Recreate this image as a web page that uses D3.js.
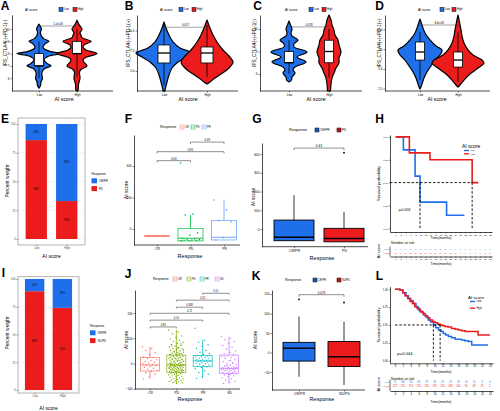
<!DOCTYPE html>
<html><head><meta charset="utf-8">
<script src="https://cdn.jsdelivr.net/npm/d3@7"></script>
<style>body{margin:0;background:#fff}svg{display:block}</style>
</head><body><svg id="c" width="500" height="411"></svg>
<script>
// ---------------- DATA ----------------
const scoreGroups = ["Low", "High"];
// violin densities [value, relative half-width]
const aTicks = [6, 7, 8, 9, 10];
const aLowDens = [[5.18,0],[5.4,1.5],[5.7,2],[6.0,3.5],[6.2,3],[6.5,3],[6.8,6],[7.0,12],[7.2,8],[7.5,5],[7.8,10],[8.0,22],[8.2,10],[8.5,4],[8.8,6],[9.0,10],[9.2,5],[9.5,2],[9.8,1.5],[10.0,2.5],[10.2,1.5],[10.4,0]];
const aHighDens = [[4.95,0],[5.0,1],[5.5,1.5],[6.0,3],[6.5,2.5],[6.7,4],[7.0,10],[7.3,7],[7.5,6],[7.7,9],[8.0,20],[8.3,9],[8.5,6],[8.7,7],[9.0,14],[9.3,5],[9.5,4],[9.7,3],[10.0,5],[10.3,2.5],[10.73,0]];
const aBoxes = [[7, 7, 8, 6, 9], [8, 8, 9, 6.1, 10]];
const bTicks = [5, 7.5, 10];
const bLowDens = [[2.53,1],[2.9,1.5],[3.64,3],[4.51,5],[5.37,8],[6.11,14],[6.73,22],[7.22,28],[7.84,16],[8.58,9],[9.44,5],[10.3,2],[11.05,0]];
const bHighDens = [[3.4,0],[3.64,3],[4.14,8],[4.63,14],[5.37,22],[6.11,26],[6.85,22],[7.59,16],[8.58,10],[9.44,6],[10.3,3],[11.3,0]];
const bBoxes = [[5.99, 7.22, 8.21, 3.27, 10.68], [5.99, 7.22, 7.96, 4.26, 10.68]];
const cTicks = [6, 8, 10];
const cLowDens = [[5.29,0],[5.47,2.5],[5.73,3],[6.09,6],[6.36,4],[6.62,6],[7.07,17],[7.5,8],[7.96,18],[8.4,5],[8.67,5],[9.02,9],[9.38,3],[9.64,2],[10.0,3],[10.36,1.5],[10.71,0]];
const cHighDens = [[4.49,1.5],[5.11,2],[5.64,3],[6.09,5],[6.53,7],[6.98,10],[7.42,10],[7.96,12],[8.58,10],[9.02,9],[9.47,6],[9.9,5],[10.36,3],[10.8,2],[11.24,0]];
const cBoxes = [[7, 7, 8, 6, 9], [7, 8, 9, 5.7, 10]];
const dTicks = [2.5, 5, 7.5, 10];
const dLowDens = [[2.44,0],[2.57,0.5],[3.08,2],[3.84,4],[4.6,7],[5.36,11],[6.12,15],[6.76,20],[7.4,22],[7.9,16],[8.67,10],[9.56,5],[10.57,2],[11.33,0]];
const dHighDens = [[2.69,0],[2.95,2],[3.58,6],[4.35,12],[5.11,20],[5.74,26],[6.12,24],[6.76,15],[7.4,10],[8.28,6],[9.17,4],[9.94,3],[10.95,1.5],[11.84,0]];
const dBoxes = [[6.12, 7.14, 8.41, 3.6, 9.7], [5.23, 6.12, 7.14, 3.33, 9.7]];
const pValsTop = ["1.1e-08", "0.017", "0.028", "3.4e-08"];

// stacked bars (percent)
const pctTicks = [0, 25, 50, 75, 100];
const eCRPR = [14, 67];
const ePD = [86, 33];
const iCRPR = [11, 26];
const iSDPD = [89, 74];

// F
const fResp = ["CR", "PD", "PR"];
const fStats = [[-47, -45, -43, -48, -43], [-76, -59, 4, -78, 89], [-70, -53, 53, -72, 184]];
const fCRpts = [-48, -46, -45, -44, -44, -43];
const fPDpts = [419, 95, 89, -25, -38, -60, -63, -66, -68, -70, -72, -74, -75, -76];
const fPRpts = [184, 121, 53, 46, -55, -70];
const fBrackets = [["CR", "PD", 434, "0.94"], ["CR", "PR", 491, "0.81"], ["PD", "PR", 552, "0.39"]];
// G
const gResp = ["CR/PR", "PD"];
const gStats = [[-62, -44, 48, -62, 181], [-68, -50, 4, -68, 92]];
const gOut = [[], [407]];
const gBrackets = [["CR/PR", "PD", 432, "0.41"]];
// J
const jResp = ["CR", "PD", "PR", "SD"];
const jStats = [[-29, -5, 24, -60, 67], [-34, -5, 34, -78, 133], [-12, 11, 32, -58, 93], [-38, -18, 34, -78, 107]];
const jCR = [67, 60, 52, 44, 35, 28, 24, 20, 16, 12, 9, 6, 3, 0, -3, -5, -8, -11, -14, -18, -22, -26, -29, -35, -42, -50, -60];
const jPD = [133, 125, 118, 110, 104, 98, 92, 88, 84, 80, 76, 72, 69, 66, 63, 60, 58, 55, 52, 50, 48, 45, 43, 41, 39, 37, 35, 34, 32, 30, 28, 27, 25, 23, 22, 20, 19, 17, 15, 14, 12, 11, 9, 8, 6, 5, 3, 2, 0, -1, -2, -3, -4, -5, -5, -6, -7, -8, -9, -10, -11, -12, -13, -14, -15, -16, -17, -18, -19, -20, -21, -22, -23, -24, -25, -26, -27, -28, -29, -30, -31, -32, -33, -34, -35, -36, -38, -40, -42, -44, -46, -48, -50, -52, -54, -56, -58, -60, -62, -64, -66, -68, -70, -72, -74, -76, -78, 1, 4, 7, 10, 13, 16, 18, 21, 24, 26, 29, 31, 33, -4, -7, -11, -15, -19, -23, -27, -31, 36, 40, 46, 54, 62, 70, 78];
const jPR = [140, 93, 85, 75, 68, 60, 52, 45, 40, 36, 32, 30, 28, 26, 24, 22, 20, 18, 16, 14, 12, 11, 10, 8, 6, 4, 2, 0, -2, -5, -8, -10, -12, -15, -20, -28, -35, -42, -50, -58];
const jSD = [107, 100, 95, 88, 80, 72, 65, 58, 50, 44, 38, 34, 31, 28, 24, 20, 16, 12, 8, 4, 0, -3, -6, -9, -12, -14, -16, -18, -19, -20, -21, -22, -23, -24, -25, -26, -28, -30, -32, -34, -36, -38, -40, -42, -45, -48, -52, -56, -60, -65, -70, -74, -78, 2, -8, -15, 14, 26, -31, -44];
const jBrackets = [["PR", "SD", 278, "0.51"], ["PD", "SD", 251, "0.24"], ["PD", "PR", 223, "0.038"], ["CR", "SD", 199, "0.72"], ["CR", "PR", 172, "0.14"], ["CR", "PD", 145, "0.83"]];
// K
const kResp = ["CR/PR", "SD/PD"];
const kStats = [[-22, 11, 26, -62, 92], [-36, -11, 28, -83, 79]];
const kOut = [[136], [128]];
const kBrackets = [["CR/PR", "SD/PD", 148, "0.073"]];

// H survival
const hTicks = [0, 2, 4, 6, 8, 10, 12, 14, 16, 18, 20, 22, 24, 26, 28, 30, 32, 34, 36, 38];
const hLowT = [0, 3.1, 7.8, 9.8, 20.5, 27.7];
const hLowS = [1, 0.857, 0.571, 0.286, 0.143, 0.143];
const hHighT = [0, 5.5, 13.8, 30.8, 33.3];
const hHighS = [1, 0.825, 0.75, 0.5, 0.5];
const hMedians = [9.8, 30.8];
const hRiskLow = [7, 7, 6, 6, 5, 2, 2, 2, 2, 2, 2, 1, 1, 1, 0, 0, 0, 0, 0, 0];
const hRiskHigh = [14, 14, 14, 12, 12, 12, 11, 11, 11, 10, 10, 10, 10, 9, 9, 7, 4, 1, 0, 0];
// L survival
const lTicks = [0, 2, 4, 6, 8, 10, 12, 14, 16, 18, 20, 22, 24];
const lLowT = [0, 1.2, 2, 2.8, 3.4, 4, 4.6, 5.3, 5.9, 6.5, 7.2, 7.8, 8.4, 9, 9.7, 10.3, 11, 11.6, 12.2, 12.8, 13.5, 14.3, 15.2, 16, 16.8, 17.6, 18.5, 19.4, 23.5];
const lLowS = [1, 0.99, 0.95, 0.91, 0.87, 0.84, 0.80, 0.75, 0.71, 0.68, 0.64, 0.61, 0.57, 0.54, 0.50, 0.46, 0.43, 0.41, 0.38, 0.36, 0.34, 0.32, 0.30, 0.30, 0.29, 0.28, 0.27, 0.22, 0.22];
const lHighT = [0, 1.2, 2, 2.5, 3.2, 3.8, 4.4, 5, 5.6, 6.3, 7, 7.6, 8.2, 8.8, 9.5, 10.1, 10.8, 11.4, 12, 12.6, 13.4, 14.3, 15.2, 16, 16.8, 17.7, 20.2, 21, 24];
const lHighS = [1, 0.99, 0.95, 0.91, 0.87, 0.83, 0.80, 0.76, 0.73, 0.69, 0.66, 0.63, 0.60, 0.57, 0.55, 0.53, 0.51, 0.50, 0.49, 0.48, 0.47, 0.45, 0.44, 0.43, 0.42, 0.41, 0.41, 0.36, 0.36];
const lMedians = [9.7, 11.4];
const lRiskLow = [71, 68, 55, 45, 37, 32, 25, 21, 19, 16, 12, 3, 0];
const lRiskHigh = [227, 215, 174, 155, 135, 129, 120, 109, 100, 94, 83, 25, 1];

// ---------------- DRAWING ----------------
const BLUE = "#1F6FEA", RED = "#EC1C1C";
const scoreColors = [BLUE, RED];
const FONT = "'Liberation Sans', Arial, sans-serif";
const svg = d3.select("#c");
svg.append("rect").attr("width", 500).attr("height", 411).attr("fill", "#fff");

function T(g, x, y, s, o = {}) {
  const t = g.append("text").attr("x", x).attr("y", y).attr("dy", "0.35em")
    .attr("font-family", FONT).attr("font-size", o.size || 4)
    .attr("fill", o.fill || "#000").attr("text-anchor", o.anchor || "middle").text(s);
  if (o.bold) t.attr("font-weight", "bold");
  if (o.rot) t.attr("transform", `rotate(-90 ${x} ${y})`);
  return t;
}
function axisStyle(sel, fs, col, lineCol) {
  sel.attr("font-size", fs).attr("font-family", FONT);
  sel.select(".domain").attr("stroke", lineCol || "#000").attr("stroke-width", 0.7);
  sel.selectAll(".tick line").attr("stroke", lineCol || "#000").attr("stroke-width", 0.5);
  sel.selectAll(".tick text").attr("fill", col || "#000");
}
function hline(g, x1, x2, y, col, w, dash) {
  const l = g.append("line").attr("x1", x1).attr("x2", x2).attr("y1", y).attr("y2", y)
    .attr("stroke", col || "#000").attr("stroke-width", w || 0.7);
  if (dash) l.attr("stroke-dasharray", dash);
  return l;
}
function vline(g, x, y1, y2, col, w, dash) {
  const l = g.append("line").attr("x1", x).attr("x2", x).attr("y1", y1).attr("y2", y2)
    .attr("stroke", col || "#000").attr("stroke-width", w || 0.7);
  if (dash) l.attr("stroke-dasharray", dash);
  return l;
}
// horizontal legend: items [{x,label,fill,stroke,box}]
function legendRow(g, y, title, tx, tsize, items, lsize) {
  T(g, tx, y, title, {size: tsize, anchor: "start"});
  items.forEach(it => {
    g.append("rect").attr("x", it.x).attr("y", y - 2).attr("width", 4).attr("height", 4)
      .attr("fill", it.fill).attr("stroke", it.stroke).attr("stroke-width", 0.5);
    if (it.box) hline(g, it.x, it.x + 4, y, it.stroke, 0.5);
    T(g, it.x + 5, y, it.label, {size: lsize, anchor: "start"});
  });
}
function panelLabel(x, y, s) { T(svg, x, y, s, {size: 12, bold: true}); }

// ---------- violin panels ----------
function violinPanel(c) {
  const g = svg.append("g");
  const y = d3.scaleLinear().domain(c.yDom).range([91, 15]);
  const x = d3.scalePoint().domain(scoreGroups).range(c.centers);
  const w = d3.scaleLinear().domain([0, 10]).range([0, 10]);
  c.dens.forEach((prof, i) => {
    const cx = x(scoreGroups[i]);
    g.append("path").datum(prof)
      .attr("d", d3.area().curve(d3.curveCatmullRom.alpha(0.5))
        .y(d => y(d[0])).x0(d => cx - w(d[1])).x1(d => cx + w(d[1])))
      .attr("fill", scoreColors[i]).attr("stroke", "#000").attr("stroke-width", 1.2)
      .attr("stroke-linejoin", "round");
  });
  c.box.forEach((b, i) => {
    const cx = x(scoreGroups[i]);
    vline(g, cx, y(b[3]), y(b[4]), "#000", 0.8);
    g.append("rect").attr("x", cx - c.bw / 2).attr("width", c.bw).attr("y", y(b[2]))
      .attr("height", y(b[0]) - y(b[2])).attr("fill", "#fff").attr("stroke", "#000").attr("stroke-width", 0.8);
    hline(g, cx - c.bw / 2, cx + c.bw / 2, y(b[1]), "#000", 1.3);
  });
  const by = y(c.bracket);
  g.append("path").attr("d", `M${x("Low")},${by + 1.2}V${by}H${x("High")}V${by + 1.2}`)
    .attr("fill", "none").attr("stroke", "#444").attr("stroke-width", 0.5);
  T(g, (x("Low") + x("High")) / 2, by - 1.8, c.p, {size: 2.8});
  const ya = g.append("g").attr("transform", `translate(${c.x0},0)`)
    .call(d3.axisLeft(y).tickValues(c.ticks).tickFormat(c.fmt).tickSize(1.5).tickSizeOuter(0).tickPadding(1));
  axisStyle(ya, 3);
  const xa = g.append("g").attr("transform", "translate(0,91)")
    .call(d3.axisBottom(x).tickSize(1.5).tickSizeOuter(0).tickPadding(1));
  axisStyle(xa, 3); xa.select(".domain").remove();
  hline(g, c.x0, c.x1, 91, "#000", 0.7);
  T(g, c.ytX, 43, c.ytitle, {size: 4.6, rot: true});
  T(g, c.xtX, 99.5, "AI score", {size: 5.2});
  legendRow(g, 9.5, "AI score", c.leg[0], 3.4,
    [{x: c.leg[1], label: "Low", fill: BLUE, stroke: "#000"}, {x: c.leg[2], label: "High", fill: RED, stroke: "#000"}], 2.7);
}
violinPanel({yDom: [4.95, 11.15], centers: [39, 77], dens: [aLowDens, aHighDens], box: aBoxes, bw: 9,
  bracket: 10.25, p: pValsTop[0], x0: 12, x1: 113, ticks: aTicks, fmt: d3.format("d"),
  ytX: 5, ytitle: "IPS_CTLA4(-)+PD-1(-)", xtX: 64, leg: [25, 59, 73]});
violinPanel({yDom: [2.53, 11.91], centers: [164, 207], dens: [bLowDens, bHighDens], box: bBoxes, bw: 12,
  bracket: 10.4, p: pValsTop[1], x0: 137, x1: 238, ticks: bTicks, fmt: d3.format(".1f"),
  ytX: 128.5, ytitle: "IPS_CTLA4(-)+PD-1(+)", xtX: 188, leg: [160, 179, 192]});
violinPanel({yDom: [4.49, 11.24], centers: [289, 329], dens: [cLowDens, cHighDens], box: cBoxes, bw: 9,
  bracket: 10.18, p: pValsTop[2], x0: 260, x1: 362, ticks: cTicks, fmt: d3.format("d"),
  ytX: 254, ytitle: "IPS_CTLA4(+)+PD-1(-)", xtX: 316, leg: [285, 309, 322]});
violinPanel({yDom: [2.19, 11.84], centers: [420, 458], dens: [dLowDens, dHighDens], box: dBoxes, bw: 9,
  bracket: 10.57, p: pValsTop[3], x0: 385, x1: 490, ticks: dTicks, fmt: d3.format(".1f"),
  ytX: 379, ytitle: "IPS_CTLA4(+)+PD-1(+)", xtX: 437, leg: [418, 440, 452]});

// ---------- stacked bar panels ----------
function stackPanel(c) {
  const g = svg.append("g");
  const y = d3.scaleLinear().domain([0, 100]).range(c.yr);
  const x = d3.scalePoint().domain(scoreGroups).range([c.x0, c.x1]).padding(0.6);
  const bw = x.step() * 0.7;
  const top = y(c.pad[1]), bot = y(c.pad[0]);
  pctTicks.forEach(t => hline(g, c.x0, c.x1, y(t), "#ebebeb", 0.5));
  scoreGroups.forEach(s => vline(g, x(s), top, bot, "#ebebeb", 0.5));
  scoreGroups.forEach((s, i) => {
    const cx = x(s);
    g.append("rect").attr("x", cx - bw / 2).attr("width", bw).attr("y", y(c.bottom[i])).attr("height", y(0) - y(c.bottom[i])).attr("fill", RED);
    g.append("rect").attr("x", cx - bw / 2).attr("width", bw).attr("y", y(100)).attr("height", y(c.bottom[i]) - y(100)).attr("fill", BLUE);
    T(g, cx, y(c.bottom[i] + c.top[i] / 2), c.top[i] + "%", {size: 2.6});
    T(g, cx, y(c.bottom[i] / 2), c.bottom[i] + "%", {size: 2.6});
  });
  g.append("rect").attr("x", c.x0).attr("y", top).attr("width", c.x1 - c.x0).attr("height", bot - top)
    .attr("fill", "none").attr("stroke", "#808080").attr("stroke-width", 0.6);
  const ya = g.append("g").attr("transform", `translate(${c.x0},0)`)
    .call(d3.axisLeft(y).tickValues(pctTicks).tickSize(1.5).tickSizeOuter(0).tickPadding(1));
  axisStyle(ya, 2.8, "#4d4d4d", "#333"); ya.select(".domain").remove();
  const xa = g.append("g").attr("transform", `translate(0,${bot})`)
    .call(d3.axisBottom(x).tickSize(1.5).tickSizeOuter(0).tickPadding(1));
  axisStyle(xa, 2.8, "#4d4d4d", "#333"); xa.select(".domain").remove();
  T(g, 7, c.ytY, "Percent weight", {size: 5, rot: true});
  T(g, (c.x0 + c.x1) / 2, c.xtY, "AI score", {size: 5});
  T(g, c.lx, c.ly, "Response", {size: 3.2, anchor: "start"});
  [[BLUE, "CR/PR"], [RED, c.label2]].forEach((k, i) => {
    const ky = c.ly + 6.8 + i * 7.8;
    g.append("rect").attr("x", c.lx).attr("y", ky - 2.5).attr("width", 5.5).attr("height", 5).attr("fill", k[0]);
    T(g, c.lx + 7.5, ky, k[1], {size: 2.8, anchor: "start"});
  });
}
stackPanel({x0: 18, x1: 85, yr: [239, 124], pad: [-5.2, 105.2], top: eCRPR, bottom: ePD, label2: "PD",
  ytY: 181, xtY: 256, lx: 91.5, ly: 174});
stackPanel({x0: 18, x1: 79, yr: [390, 279], pad: [-2.7, 102], top: iCRPR, bottom: iSDPD, label2: "SD/PD",
  ytY: 333, xtY: 408, lx: 90, ly: 326});

// ---------- box panels ----------
function boxPanel(c) {
  const g = svg.append("g");
  const y = d3.scaleLinear().domain(c.yDom).range(c.yRange);
  const x = d3.scalePoint().domain(c.cats).range(c.centers);
  c.brackets.forEach(b => {
    const xa = x(b[0]), xb = x(b[1]), by = y(b[2]);
    g.append("path").attr("d", `M${xa},${by + c.tip}V${by}H${xb}V${by + c.tip}`)
      .attr("fill", "none").attr("stroke", "#222").attr("stroke-width", 0.5);
    T(g, (xa + xb) / 2, by - c.bfs * 0.7, b[3], {size: c.bfs});
  });
  c.cats.forEach((cat, i) => {
    const cx = x(cat), s = c.stats[i], col = c.colors[i];
    const st = c.filled ? "#000" : col;
    vline(g, cx, y(s[3]), y(s[0]), st, 0.8);
    vline(g, cx, y(s[2]), y(s[4]), st, 0.8);
    g.append("rect").attr("x", cx - c.boxW / 2).attr("width", c.boxW).attr("y", y(s[2]))
      .attr("height", y(s[0]) - y(s[2])).attr("fill", c.filled ? col : "#fff")
      .attr("stroke", st).attr("stroke-width", c.filled ? 0.9 : 0.7);
    hline(g, cx - c.boxW / 2, cx + c.boxW / 2, y(s[1]), st, c.filled ? 1.4 : 0.9);
    if (c.points) c.points[i].forEach((v, j) => {
      g.append("circle").attr("cx", cx + (((j * 0.6180339887) % 1) - 0.5) * c.boxW * 0.8)
        .attr("cy", y(v)).attr("r", c.pr).attr("fill", col);
    });
    if (c.outliers) c.outliers[i].forEach(v => {
      g.append("circle").attr("cx", cx).attr("cy", y(v)).attr("r", 0.9).attr("fill", "#000");
    });
  });
  const ya = g.append("g").attr("transform", `translate(${c.x0},0)`)
    .call(d3.axisLeft(y).tickValues(c.ticks).tickSize(1.5).tickSizeOuter(0).tickPadding(1));
  axisStyle(ya, c.tfs);
  const xa = g.append("g").attr("transform", `translate(0,${c.yRange[0]})`)
    .call(d3.axisBottom(x).tickSize(1.5).tickSizeOuter(0).tickPadding(1));
  axisStyle(xa, c.tfs + 0.4); xa.select(".domain").remove();
  hline(g, c.x0, c.x1, c.yRange[0], "#000", 0.7);
  T(g, c.yt[0], c.yt[1], "AI score", {size: 5, rot: true});
  T(g, c.xt[0], c.xt[1], "Response", {size: 5.5});
  return g;
}
const fColors = ["#F8766D", "#00BA38", "#619CFF"];
const gF = boxPanel({cats: fResp, colors: fColors, filled: false, yDom: [-102, 597], yRange: [245, 135],
  centers: [157, 224], x0: 134, x1: 240, ticks: [0, 200, 400], stats: fStats,
  points: [fCRpts, fPDpts, fPRpts], pr: 0.8, boxW: 25, brackets: fBrackets, tip: 1.8, bfs: 2.8,
  tfs: 3, yt: [126, 190], xt: [190, 256]});
legendRow(gF, 127, "Response", 160, 3.6,
  fResp.map((r, i) => ({x: [180, 191, 202][i], label: r, fill: "#fff", stroke: fColors[i], box: true})), 2.6);

const gG = boxPanel({cats: gResp, colors: [BLUE, RED], filled: true, yDom: [-94, 459], yRange: [246.7, 143],
  centers: [294, 344], x0: 262, x1: 368, ticks: [0, 100, 200, 300, 400], stats: gStats, outliers: gOut,
  boxW: 40, brackets: gBrackets, tip: 2, bfs: 3.4, tfs: 3.3, yt: [253, 197], xt: [322, 258]});
legendRow(gG, 130, "Response", 289, 4, [{x: 315, label: "CR/PR", fill: BLUE, stroke: "#000", box: true},
  {x: 337, label: "PD", fill: RED, stroke: "#000", box: true}], 3);

const jColors = ["#F8766D", "#7CAE00", "#00BFC4", "#C77CFF"];
const gJ = boxPanel({cats: jResp, colors: jColors, filled: false, yDom: [-100, 291], yRange: [389, 290],
  centers: [150, 229], x0: 135, x1: 240, ticks: [-100, 0, 100, 200], stats: jStats,
  points: [jCR, jPD, jPR, jSD], pr: 0.7, boxW: 19, brackets: jBrackets, tip: 1.5, bfs: 2.6,
  tfs: 3, yt: [126.5, 340], xt: [190, 399]});
legendRow(gJ, 279, "Response", 153, 3.5,
  jResp.map((r, i) => ({x: [173, 187, 200, 215][i], label: r, fill: "#fff", stroke: jColors[i], box: true})), 2.6);

const gK = boxPanel({cats: kResp, colors: [BLUE, RED], filled: true, yDom: [-96, 160], yRange: [390, 290],
  centers: [299, 344], x0: 272, x1: 365, ticks: [-50, 0, 50, 100, 150], stats: kStats, outliers: kOut,
  boxW: 32, brackets: kBrackets, tip: 2.2, bfs: 3, tfs: 3.2, yt: [255, 340], xt: [322, 399.5]});
legendRow(gK, 280, "Response", 285, 3.6, [{x: 313, label: "CR/PR", fill: BLUE, stroke: "#000", box: true},
  {x: 337, label: "SD/PD", fill: RED, stroke: "#000", box: true}], 2.6);

// ---------- survival panels ----------
function survPanel(c) {
  const g = svg.append("g");
  const x = d3.scaleLinear().domain(c.xDom).range([390, c.xEnd]);
  const y = d3.scaleLinear().domain(c.yDom).range([c.yBot, c.yTop]);
  c.curves.forEach((cv, i) => {
    const pts = cv[0].map((t, j) => [t, cv[1][j]]);
    g.append("path").datum(pts).attr("d", d3.line().curve(d3.curveStepAfter).x(d => x(d[0])).y(d => y(d[1])))
      .attr("fill", "none").attr("stroke", scoreColors[i]).attr("stroke-width", c.lw);
  });
  const mx = d3.max(c.medians);
  hline(g, c.dashStart, x(mx), y(0.5), "#000", 0.9, "2.5,1.8");
  c.medians.forEach(t => vline(g, x(t), y(0.5), y(0), "#000", 0.9, "2.5,1.8"));
  const ya = g.append("g").attr("transform", "translate(390,0)")
    .call(d3.axisLeft(y).tickValues([0, 0.25, 0.5, 0.75, 1]).tickFormat(d3.format(".2f")).tickSize(1.2).tickSizeOuter(0).tickPadding(1));
  axisStyle(ya, c.tfs);
  const xa = g.append("g").attr("transform", `translate(0,${c.yBot})`)
    .call(d3.axisBottom(x).tickValues(c.ticks).tickSize(1.2).tickSizeOuter(0).tickPadding(0.8));
  axisStyle(xa, c.tfs);
  T(g, 379, (c.yBot + c.yTop) / 2, "Survival probability", {size: 4.2, rot: true});
  T(g, 441, c.xtY, "Time(months)", {size: 3.4});
  T(g, x(c.pT), y(c.pS), c.p, {size: c.pfs, anchor: "start"});
  // legend
  T(g, c.leg[0], c.leg[1], "AI score", {size: c.leg[2], anchor: "start"});
  scoreGroups.forEach((s, i) => {
    const ly = c.leg[1] + c.leg[3] + i * c.leg[4];
    hline(g, c.leg[0] + 2, c.leg[0] + 7, ly, scoreColors[i], 1.4);
    T(g, c.leg[0] + 8.5, ly, s, {size: c.leg[5], anchor: "start"});
  });
  // risk table
  const r = c.risk;
  T(g, 391, r.title, "Number at risk", {size: 3.6, anchor: "start"});
  [r.low, r.high].forEach((row, i) => {
    T(g, 389, r.rows[i], scoreGroups[i], {size: 2.5, anchor: "end", fill: scoreColors[i]});
    row.forEach((n, j) => T(g, x(c.ticks[j]), r.rows[i], n, {size: c.rfs, fill: scoreColors[i]}));
  });
  vline(g, 390, r.rows[0] - 2.5, r.axis, "#000", 0.6);
  const ra = g.append("g").attr("transform", `translate(0,${r.axis})`)
    .call(d3.axisBottom(x).tickValues(c.ticks).tickSize(1.2).tickSizeOuter(0).tickPadding(0.8));
  axisStyle(ra, c.tfs);
  T(g, 441, r.xt, "Time(months)", {size: 3.4});
  T(g, 379, (r.rows[0] + r.rows[1]) / 2, "AI score", {size: 4, rot: true});
}
survPanel({xDom: [-2.3, 38.8], xEnd: 492, yDom: [-0.04, 1.02], yBot: 232, yTop: 135, ticks: hTicks,
  curves: [[hLowT, hLowS], [hHighT, hHighS]], medians: hMedians, lw: 1.6, dashStart: 390, tfs: 2.3,
  xtY: 238, p: "p=0.0058", pT: 1.2, pS: 0.2, pfs: 2.8, leg: [462, 146, 5, 4.5, 3.3, 2.2],
  rfs: 2.3, risk: {title: 242.5, rows: [249, 252.7], low: hRiskLow, high: hRiskHigh, axis: 256.5, xt: 263.5}});
survPanel({xDom: [-1.26, 24.76], xEnd: 493, yDom: [-0.037, 1.036], yBot: 363.3, yTop: 286.7, ticks: lTicks,
  curves: [[lLowT, lLowS], [lHighT, lHighS]], medians: lMedians, lw: 1.5, dashStart: 395, tfs: 2.6,
  xtY: 372, p: "p=0.044", pT: 0.6, pS: 0.1, pfs: 4.2, leg: [468, 297, 4.4, 4.5, 6.7, 2.6],
  rfs: 2.6, risk: {title: 378.3, rows: [382.3, 386.2], low: lRiskLow, high: lRiskHigh, axis: 391, xt: 401.7}});

// panel letters
[["A", 5, 6], ["B", 129, 6], ["C", 257.5, 6], ["D", 379.5, 6],
 ["E", 5, 119], ["F", 128.5, 119], ["G", 257, 119], ["H", 379.5, 119],
 ["I", 3.5, 273], ["J", 128, 274], ["K", 256, 276], ["L", 379.5, 276]].forEach(d => panelLabel(d[1], d[2], d[0]));
</script></body></html>
